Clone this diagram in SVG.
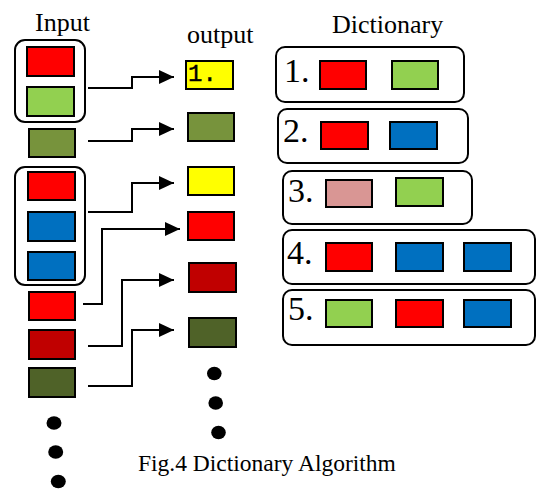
<svg xmlns="http://www.w3.org/2000/svg" width="536" height="489" viewBox="0 0 536 489">
<defs>
<marker id="arr" markerUnits="userSpaceOnUse" markerWidth="15" markerHeight="14" refX="15" refY="7" orient="auto">
<path d="M0,0 L15,7 L0,14 z" fill="#000"/>
</marker>
</defs>
<style>
.lbl{font-family:"Liberation Serif","Times New Roman",serif;font-size:26px;fill:#000}
.num{font-family:"Liberation Serif","Times New Roman",serif;font-size:34px;fill:#000}
.cap{font-family:"Liberation Serif","Times New Roman",serif;font-size:23.5px;fill:#000}
.grp{fill:none;stroke:#000;stroke-width:2}
.b{stroke:#000;stroke-width:2}
.r{fill:#FF0000}.g{fill:#92D050}.o{fill:#77933C}.bl{fill:#0070C0}.dr{fill:#C00000}.dg{fill:#4F6228}.y{fill:#FFFF00}.p{fill:#D99694}
.con{fill:none;stroke:#000;stroke-width:2;marker-end:url(#arr)}
</style>
<rect width="536" height="489" fill="#fff"/>
<text class="lbl" x="35" y="31">Input</text>
<text class="lbl" x="187" y="43">output</text>
<text class="lbl" x="332" y="33">Dictionary</text>

<g id="input">
<g id="in-group1">
<rect class="grp" x="15" y="40" width="70" height="82" rx="10"/>
<rect class="b r" x="27" y="47" width="47" height="29"/>
<rect class="b g" x="27" y="87" width="47" height="29"/>
</g>
<g id="in-olive"><rect class="b o" x="29" y="129" width="46" height="28"/></g>
<g id="in-group2">
<rect class="grp" x="15" y="167" width="70" height="118" rx="10"/>
<rect class="b r" x="28" y="172" width="47" height="28"/>
<rect class="b bl" x="28" y="212" width="47" height="29"/>
<rect class="b bl" x="28" y="252" width="47" height="28"/>
</g>
<g id="in-red"><rect class="b r" x="29" y="292" width="46" height="28"/></g>
<g id="in-darkred"><rect class="b dr" x="29" y="330" width="46" height="29"/></g>
<g id="in-darkgreen"><rect class="b dg" x="29" y="368" width="46" height="29"/></g>
<g id="in-dots">
<ellipse cx="54" cy="423" rx="7.5" ry="6.7"/>
<ellipse cx="55.7" cy="452" rx="7.5" ry="6.7"/>
<ellipse cx="58.3" cy="481.5" rx="7.5" ry="6.7"/>
</g>
</g>

<g id="output">
<g id="out1"><rect class="b y" x="186" y="61" width="47" height="28"/>
<text x="188" y="81" style="font-family:'Liberation Mono','Courier New',monospace;font-size:24px;fill:#000;stroke:#000;stroke-width:0.4">1.</text></g>
<g id="out2"><rect class="b o" x="188" y="113" width="46" height="28"/></g>
<g id="out3"><rect class="b y" x="188" y="167" width="46" height="28"/></g>
<g id="out4"><rect class="b r" x="188" y="212" width="46" height="28"/></g>
<g id="out5"><rect class="b dr" x="189" y="263" width="47" height="29"/></g>
<g id="out6"><rect class="b dg" x="189" y="318" width="47" height="29"/></g>
<g id="out-dots">
<ellipse cx="214.3" cy="373.5" rx="7.3" ry="6.7"/>
<ellipse cx="215.7" cy="403" rx="7.3" ry="6.7"/>
<ellipse cx="218.5" cy="432.5" rx="7.3" ry="6.7"/>
</g>
</g>

<g id="connectors">
<path class="con" d="M88,88 H132 V77 H174"/>
<path class="con" d="M88,141 H132 V129 H174"/>
<path class="con" d="M88,212 H132 V183 H174"/>
<path class="con" d="M83,304 H102 V229 H180"/>
<path class="con" d="M88,346 H122 V280 H174"/>
<path class="con" d="M88,386 H132 V330 H174"/>
</g>

<g id="dict1">
<rect class="grp" x="276" y="47" width="188" height="55" rx="9"/>
<text class="num" x="284" y="82">1.</text>
<rect class="b r" x="320" y="61" width="46" height="28"/>
<rect class="b g" x="392" y="61" width="46" height="28"/>
</g>
<g id="dict2">
<rect class="grp" x="278" y="109" width="190" height="54" rx="9"/>
<text class="num" x="283" y="142">2.</text>
<rect class="b r" x="321" y="122" width="47" height="27"/>
<rect class="b bl" x="390" y="122" width="47" height="27"/>
</g>
<g id="dict3">
<rect class="grp" x="283" y="171" width="189" height="53" rx="9"/>
<text class="num" x="288" y="202">3.</text>
<rect class="b p" x="326" y="180" width="46" height="27"/>
<rect class="b g" x="396" y="178" width="47" height="28"/>
</g>
<g id="dict4">
<rect class="grp" x="283" y="230" width="252" height="54" rx="9"/>
<text class="num" x="287" y="264">4.</text>
<rect class="b r" x="326" y="243" width="46" height="28"/>
<rect class="b bl" x="396" y="243" width="47" height="28"/>
<rect class="b bl" x="464" y="243" width="47" height="28"/>
</g>
<g id="dict5">
<rect class="grp" x="283" y="290" width="252" height="55" rx="9"/>
<text class="num" x="288" y="320">5.</text>
<rect class="b g" x="326" y="300" width="46" height="27"/>
<rect class="b r" x="396" y="300" width="47" height="27"/>
<rect class="b bl" x="464" y="300" width="47" height="27"/>
</g>

<text class="cap" x="138" y="471">Fig.4 Dictionary Algorithm</text>
</svg>
